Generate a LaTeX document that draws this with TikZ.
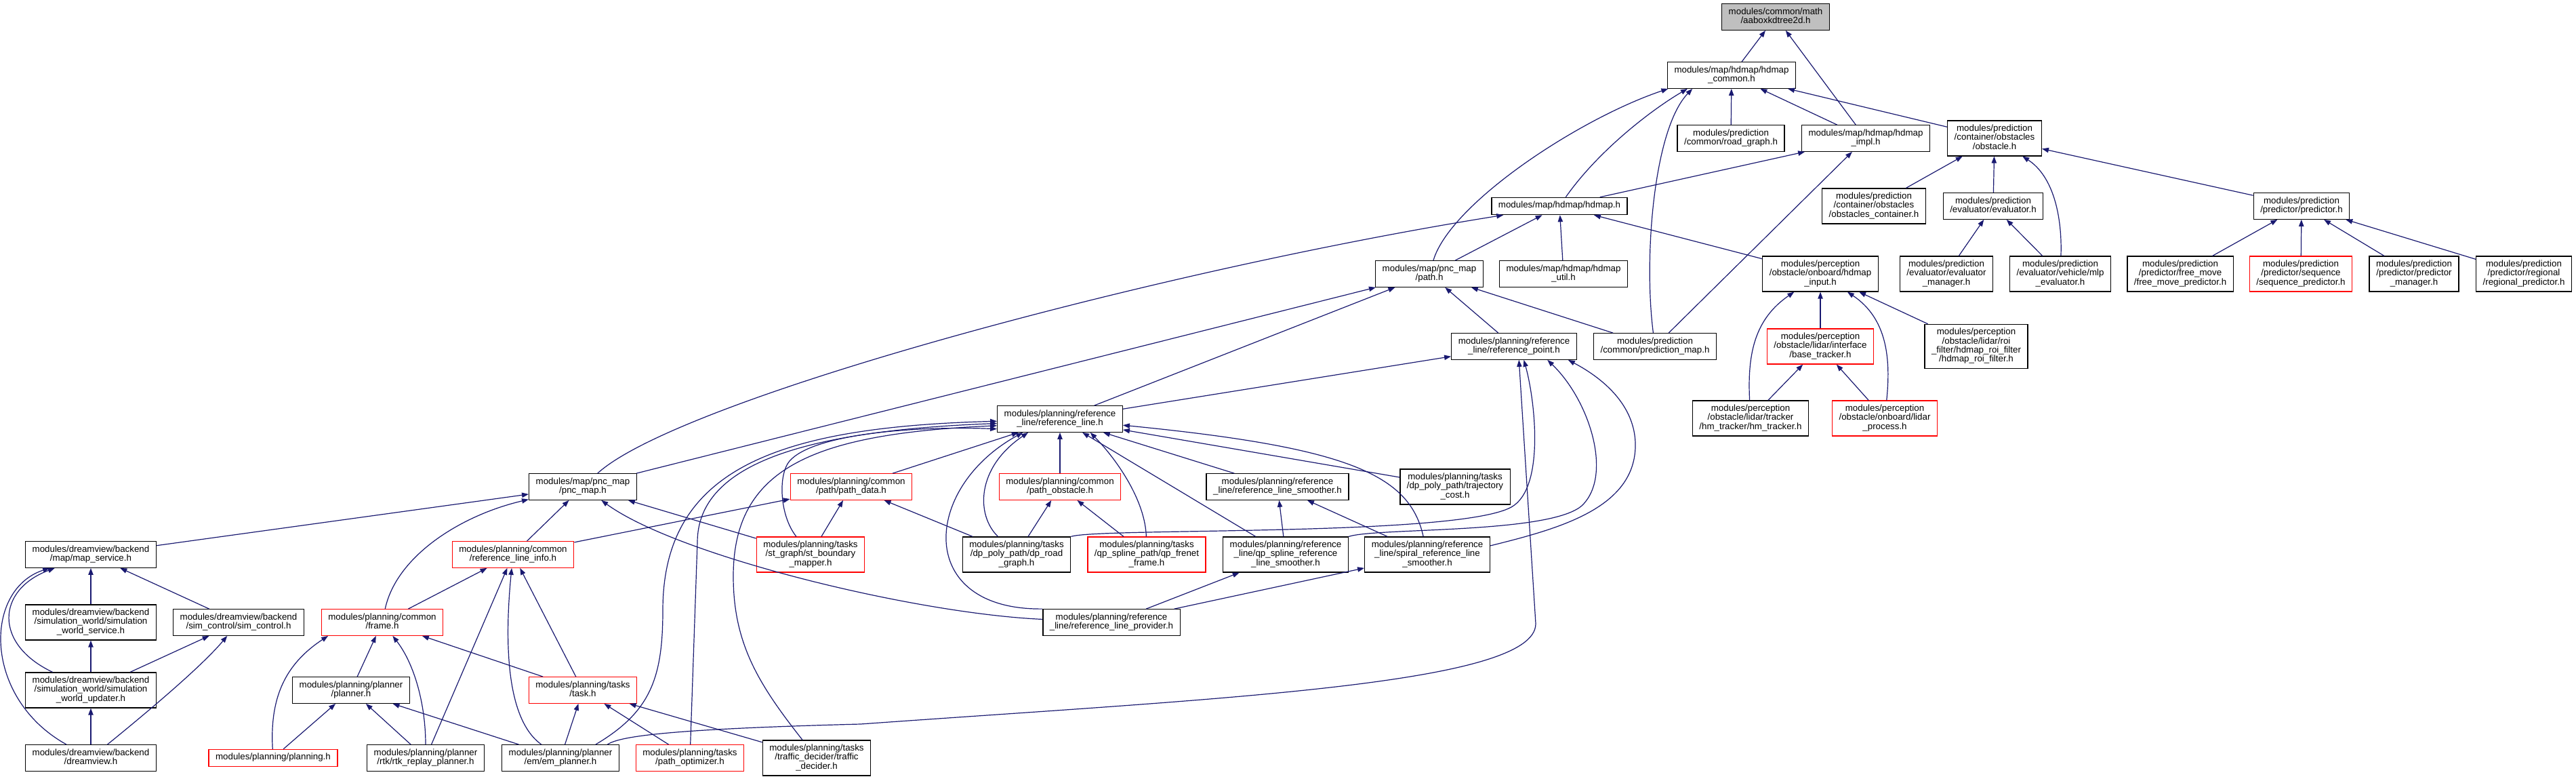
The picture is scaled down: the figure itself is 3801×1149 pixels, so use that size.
\documentclass[tikz,border=0pt]{standalone}
\usepackage{fontspec}
\setmainfont{Liberation Sans}
\usepackage{tikz}
\usetikzlibrary{arrows.meta}
\definecolor{midnight}{HTML}{191970}
\definecolor{greyfile}{HTML}{BFBFBF}
\definecolor{truncred}{HTML}{FF0000}

\begin{document}
\begin{tikzpicture}[x=0.75bp, y=-0.75bp,
    hfile/.style={draw=black, fill=white, line width=1bp, align=center,
        inner xsep=7.5bp, inner ysep=4.3bp,
        font=\fontsize{10bp}{10bp}\selectfont, execute at end node=\strut},
    hred/.style={hfile, draw=truncred},
    incl/.style={draw=midnight, line width=0.9bp, -{Triangle[length=7.5bp, width=5.5bp]}}]
    \useasboundingbox (0,0) rectangle (3801,1149);

    % Files
    \node[hfile, fill=greyfile] (aabox) at (2620,25) {modules/common/math\\/aaboxkdtree2d.h};
    \node[hfile] (hdmapcommon) at (2555,111) {modules/map/hdmap/hdmap\\\_common.h};
    \node[hfile] (roadgraph) at (2554,204) {modules/prediction\\/common/road\_graph.h};
    \node[hfile] (hdmapimpl) at (2753,204) {modules/map/hdmap/hdmap\\\_impl.h};
    \node[hfile] (obstacle) at (2943,204) {modules/prediction\\/container/obstacles\\/obstacle.h};
    \node[hfile] (hdmap) at (2301,304) {modules/map/hdmap/hdmap.h};
    \node[hfile] (container) at (2765,304) {modules/prediction\\/container/obstacles\\/obstacles\_container.h};
    \node[hfile] (evaluator) at (2941,304) {modules/prediction\\/evaluator/evaluator.h};
    \node[hfile] (predictor) at (3396,304) {modules/prediction\\/predictor/predictor.h};
    \node[hfile] (path) at (2109,404) {modules/map/pnc\_map\\/path.h};
    \node[hfile] (hdmaputil) at (2307,404) {modules/map/hdmap/hdmap\\\_util.h};
    \node[hfile] (hdmapinput) at (2686,404) {modules/perception\\/obstacle/onboard/hdmap\\\_input.h};
    \node[hfile] (evalmanager) at (2872,404) {modules/prediction\\/evaluator/evaluator\\\_manager.h};
    \node[hfile] (mlpeval) at (3040,404) {modules/prediction\\/evaluator/vehicle/mlp\\\_evaluator.h};
    \node[hfile] (freemove) at (3217,404) {modules/prediction\\/predictor/free\_move\\/free\_move\_predictor.h};
    \node[hred] (sequence) at (3395,404) {modules/prediction\\/predictor/sequence\\/sequence\_predictor.h};
    \node[hfile] (predmanager) at (3562,404) {modules/prediction\\/predictor/predictor\\\_manager.h};
    \node[hfile] (regional) at (3724,404) {modules/prediction\\/predictor/regional\\/regional\_predictor.h};
    \node[hfile] (refpoint) at (2234,511) {modules/planning/reference\\\_line/reference\_point.h};
    \node[hfile] (predmap) at (2442,511) {modules/prediction\\/common/prediction\_map.h};
    \node[hred] (basetracker) at (2686,511) {modules/perception\\/obstacle/lidar/interface\\/base\_tracker.h};
    \node[hfile] (roifilter) at (2916,511) {modules/perception\\/obstacle/lidar/roi\\\_filter/hdmap\_roi\_filter\\/hdmap\_roi\_filter.h};
    \node[hfile] (hmtracker) at (2583,617) {modules/perception\\/obstacle/lidar/tracker\\/hm\_tracker/hm\_tracker.h};
    \node[hred] (lidarprocess) at (2781,617) {modules/perception\\/obstacle/onboard/lidar\\\_process.h};
    \node[hfile] (refline) at (1564,618) {modules/planning/reference\\\_line/reference\_line.h};
    \node[hfile] (pncmap) at (860,718) {modules/map/pnc\_map\\/pnc\_map.h};
    \node[hred] (pathdata) at (1256,718) {modules/planning/common\\/path/path\_data.h};
    \node[hred] (pathobstacle) at (1564,718) {modules/planning/common\\/path\_obstacle.h};
    \node[hfile] (smoother) at (1885,718) {modules/planning/reference\\\_line/reference\_line\_smoother.h};
    \node[hfile] (trajcost) at (2147,718) {modules/planning/tasks\\/dp\_poly\_path/trajectory\\\_cost.h};
    \node[hfile] (mapservice) at (134,818) {modules/dreamview/backend\\/map/map\_service.h};
    \node[hred] (reflineinfo) at (757,818) {modules/planning/common\\/reference\_line\_info.h};
    \node[hred] (stmapper) at (1196,818) {modules/planning/tasks\\/st\_graph/st\_boundary\\\_mapper.h};
    \node[hfile] (roadgraphdp) at (1500,818) {modules/planning/tasks\\/dp\_poly\_path/dp\_road\\\_graph.h};
    \node[hred] (frenet) at (1692,818) {modules/planning/tasks\\/qp\_spline\_path/qp\_frenet\\\_frame.h};
    \node[hfile] (qpsmoother) at (1897,818) {modules/planning/reference\\\_line/qp\_spline\_reference\\\_line\_smoother.h};
    \node[hfile] (spiral) at (2106,818) {modules/planning/reference\\\_line/spiral\_reference\_line\\\_smoother.h};
    \node[hfile] (worldservice) at (134,918) {modules/dreamview/backend\\/simulation\_world/simulation\\\_world\_service.h};
    \node[hfile] (simcontrol) at (352,918) {modules/dreamview/backend\\/sim\_control/sim\_control.h};
    \node[hred] (frame) at (564,918) {modules/planning/common\\/frame.h};
    \node[hfile] (provider) at (1640,918) {modules/planning/reference\\\_line/reference\_line\_provider.h};
    \node[hfile] (worldupdater) at (134,1018) {modules/dreamview/backend\\/simulation\_world/simulation\\\_world\_updater.h};
    \node[hfile] (planner) at (518,1018) {modules/planning/planner\\/planner.h};
    \node[hred] (task) at (860,1018) {modules/planning/tasks\\/task.h};
    \node[hfile] (dreamview) at (134,1118) {modules/dreamview/backend\\/dreamview.h};
    \node[hred] (planning) at (403,1118) {modules/planning/planning.h};
    \node[hfile] (rtkplanner) at (628,1118) {modules/planning/planner\\/rtk/rtk\_replay\_planner.h};
    \node[hfile] (emplanner) at (827,1118) {modules/planning/planner\\/em/em\_planner.h};
    \node[hred] (optimizer) at (1018,1118) {modules/planning/tasks\\/path\_optimizer.h};
    \node[hfile] (traffic) at (1205,1118) {modules/planning/tasks\\/traffic\_decider/traffic\\\_decider.h};

    % Includes, map and prediction
    \draw[incl] (hdmapcommon) -- (aabox);
    \draw[incl] (hdmapimpl) -- (aabox);
    \draw[incl] (roadgraph) -- (hdmapcommon);
    \draw[incl] (hdmapimpl) -- (hdmapcommon);
    \draw[incl] (obstacle) -- (hdmapcommon);
    \draw[incl] (hdmap) .. controls (2360,220) and (2440,160) .. (hdmapcommon.197);
    \draw[incl] (path) .. controls (2140,300) and (2330,175) .. (hdmapcommon.192);
    \draw[incl] (predmap) .. controls (2425,380) and (2440,190) .. (hdmapcommon.199);
    \draw[incl] (hdmap) -- (hdmapimpl);
    \draw[incl] (predmap) -- (hdmapimpl);
    \draw[incl] (container) -- (obstacle);
    \draw[incl] (evaluator) -- (obstacle);
    \draw[incl] (mlpeval) .. controls (3043,320) and (3030,260) .. (obstacle);
    \draw[incl] (predictor) -- (obstacle);
    \draw[incl] (evalmanager) -- (evaluator);
    \draw[incl] (mlpeval) -- (evaluator);
    \draw[incl] (freemove) -- (predictor);
    \draw[incl] (sequence) -- (predictor);
    \draw[incl] (predmanager) -- (predictor);
    \draw[incl] (regional) -- (predictor);
    \draw[incl] (pncmap) .. controls (1000,590) and (1700,400) .. (hdmap);
    \draw[incl] (path) -- (hdmap);
    \draw[incl] (hdmaputil) -- (hdmap);
    \draw[incl] (hdmapinput) -- (hdmap);
    \draw[incl] (pncmap) -- (path);
    \draw[incl] (refline) -- (path);
    \draw[incl] (refpoint) -- (path);
    \draw[incl] (predmap) -- (path);
    \draw[incl] (basetracker) -- (hdmapinput);
    \draw[incl] (hmtracker) .. controls (2578,520) and (2590,470) .. (hdmapinput);
    \draw[incl] (lidarprocess) .. controls (2790,530) and (2785,470) .. (hdmapinput);
    \draw[incl] (roifilter) -- (hdmapinput);
    \draw[incl] (hmtracker) -- (basetracker);
    \draw[incl] (lidarprocess) -- (basetracker);

    % Includes, reference line
    \draw[incl] (refline) -- (refpoint);
    \draw[incl] (emplanner.16) .. controls (915,1085) and (1000,1075) .. (1270,1068) .. controls (1800,1030) and (2266,1010) .. (2266,920) -- (refpoint.290);
    \draw[incl] (roadgraphdp.north east) .. controls (1620,778) and (2150,792) .. (2230,748) .. controls (2280,720) and (2265,590) .. (refpoint.306);
    \draw[incl] (qpsmoother.north east) .. controls (2030,778) and (2290,788) .. (2335,745) .. controls (2380,700) and (2345,590) .. (refpoint.338);
    \draw[incl] (spiral.8) .. controls (2300,780) and (2410,750) .. (2413,660) .. controls (2415,590) and (2350,550) .. (refpoint.346);
    \draw[incl] (pathdata) -- (refline);
    \draw[incl] (pathobstacle) -- (refline);
    \draw[incl] (smoother) -- (refline);
    \draw[incl] (trajcost) -- (refline);
    \draw[incl] (stmapper) .. controls (1150,760) and (1148,700) .. (1165,680) .. controls (1200,640) and (1350,628) .. (refline.189);
    \draw[incl] (emplanner.21) .. controls (960,1050) and (978,1000) .. (978,900) .. controls (978,690) and (1150,630) .. (refline.182);
    \draw[incl] (optimizer) -- (1029,800) .. controls (1029,680) and (1200,635) .. (refline.184);
    \draw[incl] (traffic) .. controls (1120,1010) and (1082,950) .. (1082,850) .. controls (1082,690) and (1200,640) .. (refline.186);
    \draw[incl] (roadgraphdp) .. controls (1440,760) and (1440,690) .. (refline.203);
    \draw[incl] (provider.north west) .. controls (1350,900) and (1360,720) .. (refline.200);
    \draw[incl] (frenet) .. controls (1690,740) and (1650,680) .. (refline.336);
    \draw[incl] (qpsmoother) -- (refline);
    \draw[incl] (spiral) .. controls (2080,700) and (1990,660) .. (refline);
    \draw[incl] (mapservice) -- (pncmap);
    \draw[incl] (frame) .. controls (585,820) and (680,760) .. (pncmap);
    \draw[incl] (reflineinfo) -- (pncmap);
    \draw[incl] (provider) .. controls (1350,905) and (1000,820) .. (pncmap);
    \draw[incl] (stmapper) -- (pncmap);
    \draw[incl] (reflineinfo) -- (pathdata);
    \draw[incl] (stmapper) -- (pathdata);
    \draw[incl] (roadgraphdp) -- (pathdata);
    \draw[incl] (roadgraphdp) -- (pathobstacle);
    \draw[incl] (frenet) -- (pathobstacle);
    \draw[incl] (qpsmoother) -- (smoother);
    \draw[incl] (spiral) -- (smoother);
    \draw[incl] (provider) -- (qpsmoother);
    \draw[incl] (provider) -- (spiral);

    % Includes, dreamview
    \draw[incl] (worldservice) -- (mapservice);
    \draw[incl] (simcontrol) -- (mapservice);
    \draw[incl] (worldupdater) .. controls (-10,950) and (-5,870) .. (mapservice);
    \draw[incl] (dreamview) .. controls (-25,1030) and (-25,870) .. (mapservice);
    \draw[incl] (worldupdater) -- (worldservice);
    \draw[incl] (worldupdater) -- (simcontrol);
    \draw[incl] (dreamview) .. controls (230,1040) and (300,980) .. (simcontrol);
    \draw[incl] (dreamview) -- (worldupdater);

    % Includes, planning
    \draw[incl] (frame) -- (reflineinfo);
    \draw[incl] (rtkplanner) -- (reflineinfo);
    \draw[incl] (emplanner) .. controls (745,1060) and (745,940) .. (reflineinfo);
    \draw[incl] (task) -- (reflineinfo);
    \draw[incl] (planning) .. controls (398,1030) and (420,980) .. (frame.194);
    \draw[incl] (planner) -- (frame);
    \draw[incl] (rtkplanner) .. controls (628,1040) and (612,980) .. (frame);
    \draw[incl] (task) -- (frame);
    \draw[incl] (planning) -- (planner);
    \draw[incl] (rtkplanner) -- (planner);
    \draw[incl] (emplanner) -- (planner);
    \draw[incl] (emplanner) -- (task);
    \draw[incl] (optimizer) -- (task);
    \draw[incl] (traffic) -- (task);

\end{tikzpicture}
\end{document}
